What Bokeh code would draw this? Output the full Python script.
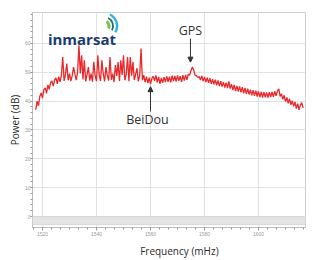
from bokeh.plotting import figure
from bokeh.models import Range1d, Arrow, NormalHead, BoxAnnotation, Label, FixedTicker
from bokeh.embed import file_html
from bokeh.resources import INLINE

# ---- data ----
freq_mhz = [
    1517.5, 1518.0, 1518.5, 1519.0, 1519.5, 1520.0, 1520.5, 1521.0, 1521.5, 1522.0,
    1522.5, 1523.0, 1523.5, 1524.0, 1524.5, 1525.0, 1525.5, 1526.0, 1526.5, 1527.0,
    1527.5, 1528.0, 1528.5, 1529.0, 1529.5, 1530.0, 1530.5, 1531.0, 1531.5, 1532.0,
    1532.5, 1533.0, 1533.5, 1534.0, 1534.5, 1535.0, 1535.5, 1536.0, 1536.5, 1537.0,
    1537.5, 1538.0, 1538.5, 1539.0, 1539.5, 1540.0, 1540.5, 1541.0, 1541.5, 1542.0,
    1542.5, 1543.0, 1543.5, 1544.0, 1544.5, 1545.0, 1545.5, 1546.0, 1546.5, 1547.0,
    1547.5, 1548.0, 1548.5, 1549.0, 1549.5, 1550.0, 1550.5, 1551.0, 1551.5, 1552.0,
    1552.5, 1553.0, 1553.5, 1554.0, 1554.5, 1555.0, 1555.5, 1556.0, 1556.5, 1557.0,
    1557.5, 1558.0, 1558.5, 1559.0, 1559.5, 1560.0, 1560.5, 1561.0, 1561.5, 1562.0,
    1562.5, 1563.0, 1563.5, 1564.0, 1564.5, 1565.0, 1565.5, 1566.0, 1566.5, 1567.0,
    1567.5, 1568.0, 1568.5, 1569.0, 1569.5, 1570.0, 1570.5, 1571.0, 1571.5, 1572.0,
    1572.5, 1573.0, 1573.5, 1574.0, 1574.5, 1575.0, 1575.5, 1576.0, 1576.5, 1577.0,
    1577.5, 1578.0, 1578.5, 1579.0, 1579.5, 1580.0, 1580.5, 1581.0, 1581.5, 1582.0,
    1582.5, 1583.0, 1583.5, 1584.0, 1584.5, 1585.0, 1585.5, 1586.0, 1586.5, 1587.0,
    1587.5, 1588.0, 1588.5, 1589.0, 1589.5, 1590.0, 1590.5, 1591.0, 1591.5, 1592.0,
    1592.5, 1593.0, 1593.5, 1594.0, 1594.5, 1595.0, 1595.5, 1596.0, 1596.5, 1597.0,
    1597.5, 1598.0, 1598.5, 1599.0, 1599.5, 1600.0, 1600.5, 1601.0, 1601.5, 1602.0,
    1602.5, 1603.0, 1603.5, 1604.0, 1604.5, 1605.0, 1605.5, 1606.0, 1606.5, 1607.0,
    1607.5, 1608.0, 1608.5, 1609.0, 1609.5, 1610.0, 1610.5, 1611.0, 1611.5, 1612.0,
    1612.5, 1613.0, 1613.5, 1614.0, 1614.5, 1615.0, 1615.5, 1616.0, 1616.5,
]
power_db = [
    37.0, 40.0, 38.4, 41.6, 42.8, 41.0, 44.0, 44.6, 42.7, 45.6,
    44.1, 46.4, 47.0, 45.2, 47.4, 48.0, 46.0, 48.5, 46.7, 48.9,
    55.3, 47.0, 49.1, 53.0, 47.2, 49.5, 46.9, 48.8, 51.8, 49.4,
    47.3, 50.0, 59.3, 49.6, 55.9, 47.5, 54.1, 46.8, 49.2, 51.8,
    47.1, 49.5, 46.7, 53.6, 48.8, 46.9, 55.9, 49.0, 47.0, 54.1,
    49.4, 46.8, 51.8, 48.9, 47.1, 55.3, 47.4, 49.5, 46.6, 52.5,
    48.7, 53.5, 47.0, 54.1, 49.1, 55.9, 47.2, 49.2, 55.3, 46.9,
    55.3, 48.8, 53.6, 47.3, 49.3, 51.4, 46.8, 48.9, 58.2, 47.2,
    49.0, 46.6, 48.5, 46.2, 48.1, 45.9, 47.9, 48.6, 47.0, 48.9,
    46.5, 48.4, 46.0, 48.0, 46.3, 48.3, 46.6, 48.6, 46.7, 48.5,
    46.5, 48.8, 46.9, 48.7, 46.8, 48.9, 47.0, 48.6, 46.7, 49.0,
    47.1, 49.1, 47.4, 49.3, 49.0, 50.6, 51.8, 50.8, 48.9, 48.9,
    48.2, 48.5, 47.3, 48.7, 46.9, 48.4, 46.6, 48.1, 46.3, 47.9,
    46.0, 47.6, 45.8, 47.4, 45.5, 47.2, 45.2, 46.9, 45.0, 46.6,
    44.7, 46.4, 44.5, 46.8, 44.3, 45.9, 43.8, 45.6, 43.5, 45.3,
    43.3, 45.1, 43.0, 44.8, 42.7, 44.6, 42.5, 44.3, 42.3, 44.0,
    42.0, 43.8, 41.8, 43.6, 41.6, 43.4, 41.4, 43.2, 41.2, 43.1,
    41.3, 43.0, 41.2, 43.1, 41.4, 43.2, 41.5, 43.4, 41.8, 43.5,
    44.2, 41.6, 42.5, 40.6, 42.0, 39.8, 41.3, 39.2, 40.8, 38.7,
    40.1, 38.2, 39.7, 37.4, 39.1, 37.0, 38.6, 39.5, 37.6,
]
x_ticks = [1520, 1540, 1560, 1580, 1600, 1620]
y_ticks = [0, 10, 20, 30, 40, 50, 60]
gps_freq, gps_level = 1574.8, 53.5
beidou_freq, beidou_level = 1560.0, 45.0

X0, X1, Y0, Y1 = 1516.3, 1617.4, -3.8, 70.7
p = figure(width=312, height=260, output_backend="svg", toolbar_location=None,
           x_range=Range1d(X0, X1), y_range=Range1d(Y0, Y1),
           min_border_left=32, min_border_right=7, min_border_top=12, min_border_bottom=32,
           background_fill_color="white", border_fill_color="white")
p.outline_line_color = "#cfcfcf"

# bottom gray band
p.add_layout(BoxAnnotation(bottom=-2.8, top=0, fill_color="#e4e4e4", fill_alpha=1,
                           line_color="#d8d8d8", line_alpha=1))

p.line(freq_mhz, power_db, line_color="#e8282b", line_width=1.3)

for ax in (p.xaxis[0], p.yaxis[0]):
    ax.axis_line_color = "#bbbbbb"
    ax.major_tick_line_color = "#999999"
    ax.minor_tick_line_color = "#999999"
    ax.major_tick_out = 3
    ax.major_tick_in = 0
    ax.minor_tick_out = 2
    ax.minor_tick_in = 0
    ax.major_label_text_font_size = "5px"
    ax.major_label_text_color = "#999999"
    ax.major_label_standoff = 1
    ax.axis_label_text_font = "Open Sans"
    ax.axis_label_text_font_size = "10px"
    ax.axis_label_text_font_style = "normal"
    ax.axis_label_text_color = "#2a2a2a"
    ax.axis_label_standoff = 0
p.yaxis.major_tick_out = 2
p.yaxis.major_label_standoff = 0
p.xaxis.axis_label_standoff = 5

p.xaxis.ticker = FixedTicker(ticks=x_ticks, minor_ticks=[1516.7 + 3.333 * i for i in range(31)])
p.yaxis.ticker = FixedTicker(ticks=y_ticks, minor_ticks=[2 * i for i in range(36)])
p.xaxis.axis_label = "\u00a0" * 8 + "Frequency (mHz)"
p.yaxis.axis_label = "Power (dB)"
p.xgrid.grid_line_color = "#e2e2e2"
p.ygrid.grid_line_color = "#e2e2e2"

# annotations
p.add_layout(Label(x=gps_freq, y=64.6, text="GPS", text_font="Open Sans",
                   text_font_size="12.5px", text_color="#333333",
                   text_align="center", text_baseline="middle"))
p.add_layout(Arrow(end=NormalHead(size=5, fill_color="#333333", line_color="#333333"),
                   x_start=gps_freq, y_start=61.6, x_end=gps_freq, y_end=gps_level,
                   line_color="#333333", line_width=1))
p.add_layout(Label(x=1558.9, y=33.6, text="BeiDou", text_font="Open Sans",
                   text_font_size="12.5px", text_color="#333333",
                   text_align="center", text_baseline="middle"))
p.add_layout(Arrow(end=NormalHead(size=5, fill_color="#333333", line_color="#333333"),
                   x_start=beidou_freq, y_start=36.4, x_end=beidou_freq, y_end=beidou_level,
                   line_color="#333333", line_width=1))

# inmarsat logo
p.add_layout(Label(x=1522.0, y=61.6, text="inmarsat", text_font="Open Sans",
                   text_font_size="15px", text_font_style="bold", text_color="#1d3b6e",
                   text_align="left", text_baseline="middle"))
p.arc(x=[1542.8, 1542.8, 1542.8], y=[66.0, 66.0, 66.0], radius=[5, 9, 13],
      radius_units="screen", start_angle=-0.5, end_angle=1.1,
      line_color=["#7dc242", "#16707f", "#2fb3e6"], line_width=[3.0, 1.8, 2.4])

open("out.html", "w").write(file_html(p, INLINE))
